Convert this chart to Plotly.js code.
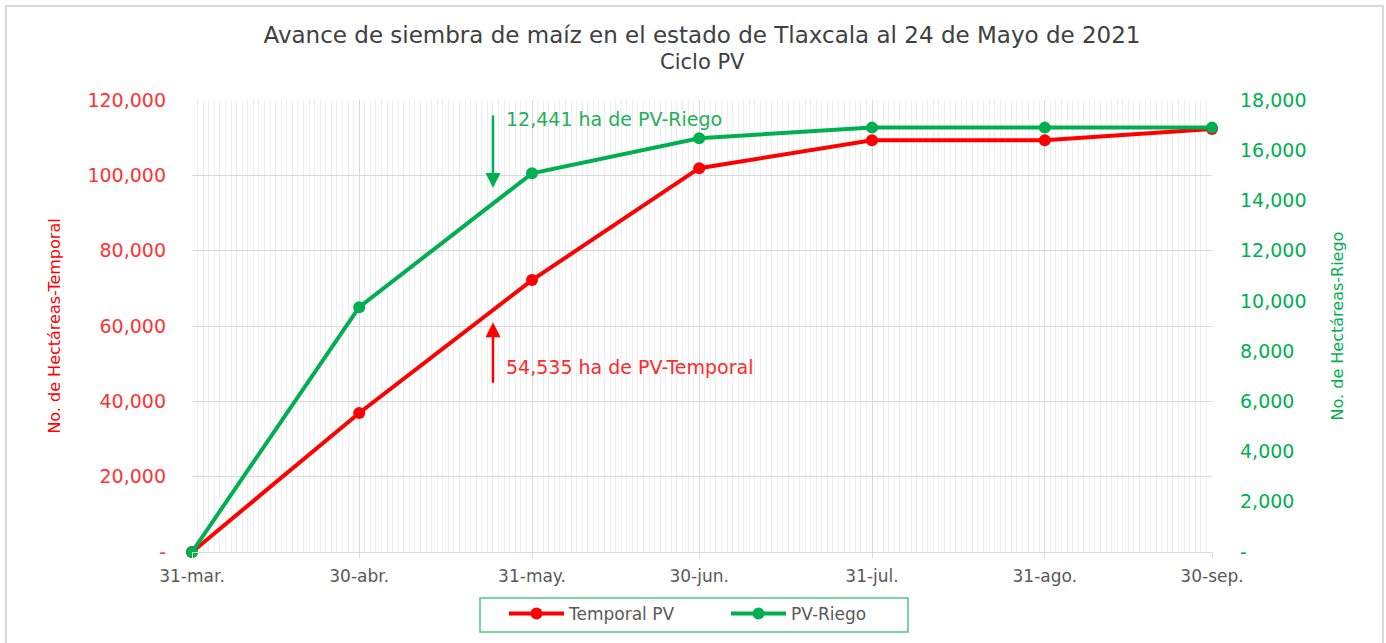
<!DOCTYPE html>
<html>
<head>
<meta charset="utf-8">
<script src="https://cdn.plot.ly/plotly-3.0.1.min.js"></script>
<style>
  html, body { margin: 0; padding: 0; background: #fff; }
  #chart { width: 1386px; height: 643px; }
</style>
</head>
<body>
<div id="chart"></div>
<script>
// ---- data ----
const fechas = ['2021-03-31', '2021-04-30', '2021-05-31', '2021-06-30', '2021-07-31', '2021-08-31', '2021-09-30'];
const etiquetasX = ['31-mar.', '30-abr.', '31-may.', '30-jun.', '31-jul.', '31-ago.', '30-sep.'];
const temporalPV = [0, 36900, 72200, 101900, 109300, 109300, 112300];
const pvRiego = [0, 9750, 15080, 16480, 16900, 16900, 16900];
const ticksIzq = [0, 20000, 40000, 60000, 80000, 100000, 120000];
const textoIzq = ['-', '20,000', '40,000', '60,000', '80,000', '100,000', '120,000'];
const ticksDer = [0, 2000, 4000, 6000, 8000, 10000, 12000, 14000, 16000, 18000];
const textoDer = ['-', '2,000', '4,000', '6,000', '8,000', '10,000', '12,000', '14,000', '16,000', '18,000'];

const ROJO = '#FF0000';
const VERDE = '#00B050';
const FONT = 'DejaVu Sans, Verdana, sans-serif';

const traces = [
  {
    x: fechas, y: temporalPV, name: 'Temporal PV', type: 'scatter', mode: 'lines+markers',
    line: { color: ROJO, width: 4 }, marker: { color: ROJO, size: 12 }, yaxis: 'y', cliponaxis: false
  },
  {
    x: fechas, y: pvRiego, name: 'PV-Riego', type: 'scatter', mode: 'lines+markers',
    line: { color: VERDE, width: 4 }, marker: { color: VERDE, size: 12 }, yaxis: 'y2', cliponaxis: false
  }
];

const layout = {
  width: 1386, height: 643,
  margin: { l: 192, r: 174, t: 100, b: 91, autoexpand: false },
  paper_bgcolor: '#fff', plot_bgcolor: '#fff',
  font: { family: FONT, color: '#595959' },
  title: {
    text: 'Avance de siembra de maíz en el estado de Tlaxcala al 24 de Mayo de 2021',
    font: { family: FONT, size: 23, color: '#404040' },
    x: 0.5, xanchor: 'center', xref: 'paper', y: 1 - 35 / 643, yanchor: 'middle', yref: 'container'
  },
  xaxis: {
    type: 'date',
    range: ['2021-03-31', '2021-09-30'],
    tickvals: fechas, ticktext: etiquetasX,
    tickfont: { family: FONT, size: 17, color: '#595959' },
    ticklabelstandoff: 4,
    showgrid: true, gridcolor: '#D9D9D9', gridwidth: 1,
    ticks: 'outside', ticklen: 5, tickcolor: '#D9D9D9',
    minor: { dtick: 86400000, showgrid: true, gridcolor: '#EEEEEE', gridwidth: 1, ticks: '' },
    zeroline: false, showline: true, linecolor: '#D9D9D9', linewidth: 1,
    fixedrange: true
  },
  yaxis: {
    range: [0, 120000],
    tickvals: ticksIzq, ticktext: textoIzq,
    tickfont: { family: FONT, size: 19, color: '#FF3333' },
    ticklabelstandoff: 25,
    showgrid: true, gridcolor: '#D9D9D9', gridwidth: 1,
    zeroline: false, showline: false,
    title: { text: 'No. de Hectáreas-Temporal', font: { family: FONT, size: 16, color: ROJO }, standoff: 22 },
    fixedrange: true
  },
  yaxis2: {
    overlaying: 'y', side: 'right',
    range: [0, 18000],
    tickvals: ticksDer, ticktext: textoDer,
    tickfont: { family: FONT, size: 19, color: VERDE },
    ticklabelstandoff: 27,
    showgrid: false, zeroline: false, showline: false,
    title: { text: 'No. de Hectáreas-Riego', font: { family: FONT, size: 16, color: VERDE }, standoff: 26 },
    fixedrange: true
  },
  showlegend: true,
  legend: {
    orientation: 'h', x: (504 - 192) / 1020, xanchor: 'left', y: -0.097, yanchor: 'top',
    borderwidth: 0, bgcolor: 'rgba(0,0,0,0)',
    font: { family: FONT, size: 17, color: '#595959' },
    itemwidth: 55,
    entrywidth: 152, entrywidthmode: 'pixels'
  },
  annotations: [
    {
      x: 0.5, y: (552 - 62) / 452, xref: 'paper', yref: 'paper', xanchor: 'center', yanchor: 'middle',
      showarrow: false, text: 'Ciclo PV',
      font: { family: FONT, size: 21, color: '#404040' }
    },
    {
      x: '2021-05-24', y: 14500, xref: 'x', yref: 'y2',
      showarrow: true, ax: 0, ay: -74, arrowhead: 2, arrowsize: 1.2, arrowwidth: 2.5, arrowcolor: VERDE,
      text: ''
    },
    {
      x: '2021-05-26', y: 17240, xref: 'x', yref: 'y2', xanchor: 'left', yanchor: 'middle',
      showarrow: false, text: '12,441 ha de PV-Riego',
      font: { family: FONT, size: 19, color: '#1FB05A' }
    },
    {
      x: '2021-05-24', y: 61000, xref: 'x', yref: 'y',
      showarrow: true, ax: 0, ay: 62, arrowhead: 2, arrowsize: 1.2, arrowwidth: 2.5, arrowcolor: ROJO,
      text: ''
    },
    {
      x: '2021-05-26', y: 49100, xref: 'x', yref: 'y', xanchor: 'left', yanchor: 'middle',
      showarrow: false, text: '54,535 ha de PV-Temporal',
      font: { family: FONT, size: 19, color: '#FF2A2A' }
    }
  ],
  shapes: [
    {
      type: 'rect', xref: 'paper', yref: 'paper',
      x0: (6 - 192) / 1020, x1: (1383 - 192) / 1020,
      y0: (552 - 660) / 452, y1: (552 - 6) / 452,
      line: { color: '#D9D9D9', width: 2 }, fillcolor: 'rgba(0,0,0,0)', layer: 'below'
    },
    {
      type: 'rect', xref: 'paper', yref: 'paper',
      x0: (480 - 192) / 1020, x1: (908 - 192) / 1020,
      y0: (552 - 632) / 452, y1: (552 - 598) / 452,
      line: { color: '#4CC97F', width: 1.5 }, fillcolor: 'rgba(0,0,0,0)', layer: 'below'
    }
  ]
};

Plotly.newPlot('chart', traces, layout, { displayModeBar: false, staticPlot: true });
</script>
</body>
</html>
